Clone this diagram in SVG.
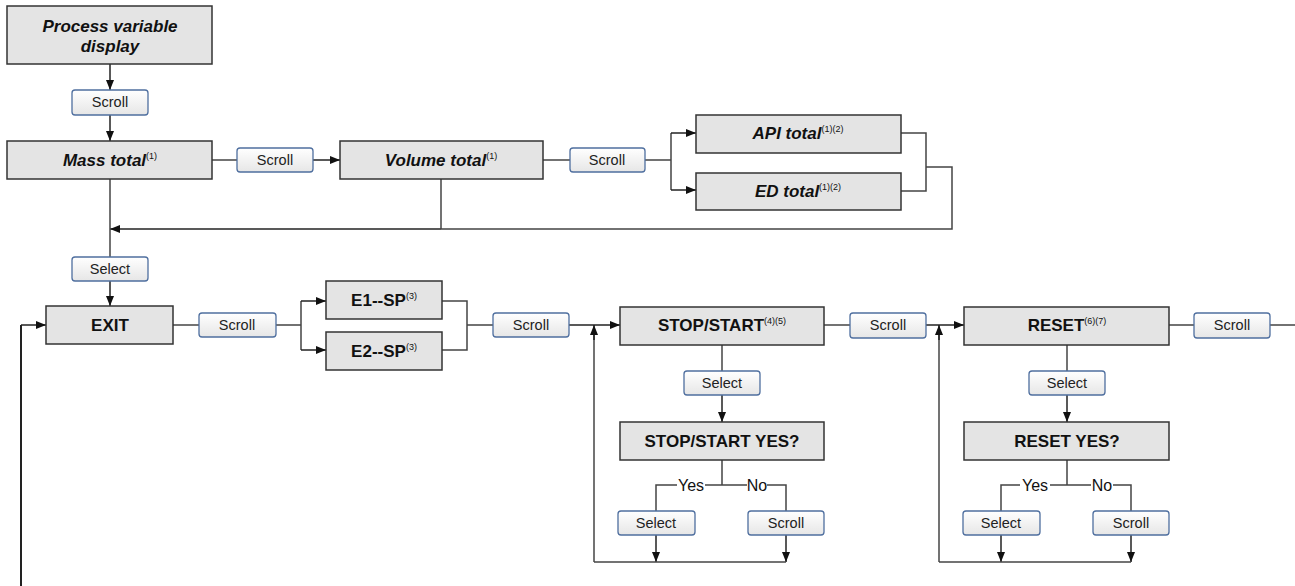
<svg xmlns="http://www.w3.org/2000/svg" width="1295" height="586" viewBox="0 0 1295 586">
<style>
.box{fill:#e4e4e4;stroke:#333;stroke-width:1.5}
.btn{fill:url(#bg);stroke:#4f6f9f;stroke-width:1.3}
.bt{font-family:"Liberation Sans",Arial,sans-serif;font-size:14.5px;fill:#222;text-anchor:middle}
.lb{font-family:"Liberation Sans",Arial,sans-serif;font-size:17px;font-weight:bold;fill:#111;text-anchor:middle}
.it{font-style:italic}
.yn{font-family:"Liberation Sans",Arial,sans-serif;font-size:16px;fill:#111;text-anchor:middle}
.sup{font-size:9px;font-weight:normal;font-style:normal}
.c{fill:none;stroke:#444;stroke-width:1.5}
.a{fill:none;stroke:#222;stroke-width:1.5;marker-end:url(#ar)}
</style>
<defs>
<linearGradient id="bg" x1="0" y1="0" x2="0" y2="1">
<stop offset="0" stop-color="#ffffff"/>
<stop offset="1" stop-color="#e6e6e6"/>
</linearGradient>
<marker id="ar" markerUnits="userSpaceOnUse" markerWidth="10" markerHeight="10" viewBox="0 0 10 10" refX="10" refY="5" orient="auto">
<path d="M0,1 L10,5 L0,9 z" fill="#111"/>
</marker>
</defs>
<g id="connectors">
<path class="a" d="M110,64 V90"/>
<path class="a" d="M110,115 V141"/>
<path class="c" d="M212,160 H237"/>
<path class="a" d="M313,160 H340"/>
<path class="c" d="M543,160 H570"/>
<path class="c" d="M645,160 H671 M671,133 V190"/>
<path class="a" d="M671,133 H696"/>
<path class="a" d="M671,190 H696"/>
<path class="c" d="M901,133 H926 V191 H901"/>
<path class="c" d="M926,167 H952 V229 H441"/>
<path class="a" d="M441,229 H110"/>
<path class="c" d="M441,179 V229"/>
<path class="c" d="M110,179 V257"/>
<path class="a" d="M110,281 V306"/>
<path class="c" d="M21,586 V325" style="stroke:#222;stroke-width:2"/>
<path class="a" d="M21,325 H46"/>
<path class="c" d="M173,325 H199"/>
<path class="c" d="M276,325 H301 M301,301 V350"/>
<path class="a" d="M301,301 H326"/>
<path class="a" d="M301,350 H326"/>
<path class="c" d="M442,301 H467 V350 H442 M467,325 H493"/>
<path class="a" d="M569,325 H620"/>
<path class="c" d="M594,562 V335"/>
<path class="a" d="M594,340 V325"/>
<path class="c" d="M824,325 H850"/>
<path class="a" d="M926,325 H964"/>
<path class="c" d="M939,562 V335"/>
<path class="a" d="M939,340 V325"/>
<path class="c" d="M1169,325 H1194 M1270,325 H1295"/>
<path class="c" d="M722,345 V371"/>
<path class="a" d="M722,395 V422"/>
<path class="c" d="M722,460 V485 M722,485 H747 M767,485 H786 V511 M722,485 H705 M677,485 H656 V511"/>
<path class="a" d="M656,535 V562"/>
<path class="a" d="M786,535 V562"/>
<path class="c" d="M594,562 H786"/>
<path class="c" d="M1067,345 V371"/>
<path class="a" d="M1067,395 V422"/>
<path class="c" d="M1067,460 V485 M1067,485 H1091 M1113,485 H1131 V511 M1067,485 H1050 M1020,485 H1001 V511"/>
<path class="a" d="M1001,535 V562"/>
<path class="a" d="M1131,535 V562"/>
<path class="c" d="M939,562 H1131"/>
<text class="yn" x="691" y="491">Yes</text>
<text class="yn" x="757" y="491">No</text>
<text class="yn" x="1035" y="491">Yes</text>
<text class="yn" x="1102" y="491">No</text>
</g>
<g id="n-process"><rect class="box" x="7" y="6" width="205" height="58"/><text class="lb it" x="110" y="32">Process variable</text><text class="lb it" x="110" y="52">display</text></g>
<g id="b-scroll1"><rect class="btn" x="72" y="90" width="76" height="25" rx="3"/><text class="bt" x="110" y="107">Scroll</text></g>
<g id="n-mass"><rect class="box" x="7" y="141" width="205" height="38"/><text class="lb it" x="110" y="166">Mass total<tspan class="sup" dy="-7">(1)</tspan></text></g>
<g id="b-scroll2"><rect class="btn" x="237" y="148" width="76" height="24" rx="3"/><text class="bt" x="275" y="165">Scroll</text></g>
<g id="n-volume"><rect class="box" x="340" y="141" width="203" height="38"/><text class="lb it" x="441" y="166">Volume total<tspan class="sup" dy="-7">(1)</tspan></text></g>
<g id="b-scroll3"><rect class="btn" x="570" y="148" width="75" height="24" rx="3"/><text class="bt" x="607" y="165">Scroll</text></g>
<g id="n-api"><rect class="box" x="696" y="115" width="205" height="38"/><text class="lb it" x="798" y="139">API total<tspan class="sup" dy="-7">(1)(2)</tspan></text></g>
<g id="n-ed"><rect class="box" x="696" y="173" width="205" height="37"/><text class="lb it" x="798" y="197">ED total<tspan class="sup" dy="-7">(1)(2)</tspan></text></g>
<g id="b-select1"><rect class="btn" x="72" y="257" width="76" height="24" rx="3"/><text class="bt" x="110" y="274">Select</text></g>
<g id="n-exit"><rect class="box" x="46" y="306" width="127" height="38"/><text class="lb" x="110" y="331">EXIT</text></g>
<g id="b-scroll4"><rect class="btn" x="199" y="313" width="77" height="24" rx="3"/><text class="bt" x="237" y="330">Scroll</text></g>
<g id="n-e1"><rect class="box" x="326" y="281" width="116" height="38"/><text class="lb" x="384" y="306">E1--SP<tspan class="sup" dy="-7">(3)</tspan></text></g>
<g id="n-e2"><rect class="box" x="326" y="332" width="116" height="38"/><text class="lb" x="384" y="357">E2--SP<tspan class="sup" dy="-7">(3)</tspan></text></g>
<g id="b-scroll5"><rect class="btn" x="493" y="313" width="76" height="24" rx="3"/><text class="bt" x="531" y="330">Scroll</text></g>
<g id="n-stopstart"><rect class="box" x="620" y="307" width="204" height="38"/><text class="lb" x="722" y="331">STOP/START<tspan class="sup" dy="-7">(4)(5)</tspan></text></g>
<g id="b-scroll6"><rect class="btn" x="850" y="313" width="76" height="25" rx="3"/><text class="bt" x="888" y="330">Scroll</text></g>
<g id="n-reset"><rect class="box" x="964" y="307" width="205" height="38"/><text class="lb" x="1067" y="331">RESET<tspan class="sup" dy="-7">(6)(7)</tspan></text></g>
<g id="b-scroll7"><rect class="btn" x="1194" y="313" width="76" height="25" rx="3"/><text class="bt" x="1232" y="330">Scroll</text></g>
<g id="b-select2"><rect class="btn" x="684" y="371" width="76" height="24" rx="3"/><text class="bt" x="722" y="388">Select</text></g>
<g id="n-stopyes"><rect class="box" x="620" y="422" width="204" height="38"/><text class="lb" x="722" y="447">STOP/START YES?</text></g>
<g id="b-select3"><rect class="btn" x="618" y="511" width="77" height="24" rx="3"/><text class="bt" x="656" y="528">Select</text></g>
<g id="b-scroll8"><rect class="btn" x="748" y="511" width="76" height="24" rx="3"/><text class="bt" x="786" y="528">Scroll</text></g>
<g id="b-select4"><rect class="btn" x="1029" y="371" width="76" height="24" rx="3"/><text class="bt" x="1067" y="388">Select</text></g>
<g id="n-resetyes"><rect class="box" x="964" y="422" width="205" height="38"/><text class="lb" x="1067" y="447">RESET YES?</text></g>
<g id="b-select5"><rect class="btn" x="963" y="511" width="77" height="24" rx="3"/><text class="bt" x="1001" y="528">Select</text></g>
<g id="b-scroll9"><rect class="btn" x="1093" y="511" width="76" height="24" rx="3"/><text class="bt" x="1131" y="528">Scroll</text></g>
</svg>
